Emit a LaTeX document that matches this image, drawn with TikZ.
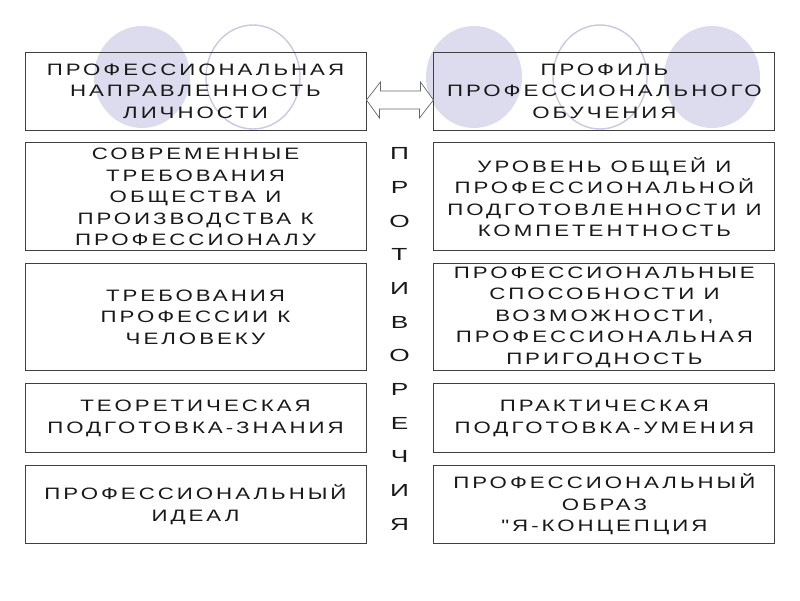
\documentclass[tikz,border=0pt]{standalone}
\usepackage{fontspec}
\setmainfont{Liberation Sans}
\newfontfamily\boxfont[FakeStretch=1.35,LetterSpace=18]{Liberation Sans}
\newfontfamily\columnfont[FakeStretch=1.5]{Liberation Sans}
\usetikzlibrary{positioning}
\definecolor{bubble}{RGB}{220,220,238}
\definecolor{bubbleline}{RGB}{200,200,228}
\definecolor{frame}{RGB}{64,64,64}
\definecolor{ink}{RGB}{25,25,25}
\tikzset{
  box/.style={draw=frame, line width=0.9pt, minimum width=341pt, inner sep=0pt,
    align=center, text=ink, font=\boxfont\fontsize{16.5}{21.5}\selectfont},
  twinarrow/.style={draw=gray!80!black, line width=0.7pt, fill=white, line join=miter},
  vtext/.style={align=center, text=ink, inner sep=0pt,
    font=\columnfont\fontsize{17.5}{33.7}\selectfont}
}
\begin{document}
\begin{tikzpicture}[x=1pt, y=-1pt]
    \useasboundingbox (0,0) rectangle (800,600);
    % background bubbles
    \fill[bubble] (142,77) ellipse [x radius=48, y radius=51];
    \draw[bubbleline, line width=1.4pt] (253,77) ellipse [x radius=47, y radius=52];
    \fill[bubble] (474,77) ellipse [x radius=48, y radius=51];
    \draw[bubbleline, line width=1.4pt] (600,77) ellipse [x radius=47, y radius=52];
    \fill[bubble] (712,77) ellipse [x radius=48, y radius=51];
    % left column
    \node[box, minimum height=78pt] (l1) at (195.5,91)
        {ПРОФЕССИОНАЛЬНАЯ\\НАПРАВЛЕННОСТЬ\\ЛИЧНОСТИ};
    \node[box, minimum height=108pt, below=12pt of l1] (l2)
        {СОВРЕМЕННЫЕ\\ТРЕБОВАНИЯ\\ОБЩЕСТВА И\\ПРОИЗВОДСТВА К\\ПРОФЕССИОНАЛУ};
    \node[box, minimum height=107pt, below=12pt of l2] (l3)
        {ТРЕБОВАНИЯ\\ПРОФЕССИИ К\\ЧЕЛОВЕКУ};
    \node[box, minimum height=69pt, below=12pt of l3] (l4)
        {ТЕОРЕТИЧЕСКАЯ\\ПОДГОТОВКА-ЗНАНИЯ};
    \node[box, minimum height=78pt, below=12pt of l4] (l5)
        {ПРОФЕССИОНАЛЬНЫЙ\\ИДЕАЛ};
    % right column
    \node[box, minimum height=78pt, right=67pt of l1] (r1)
        {ПРОФИЛЬ\\ПРОФЕССИОНАЛЬНОГО\\ОБУЧЕНИЯ};
    \node[box, minimum height=108pt, right=67pt of l2] (r2)
        {УРОВЕНЬ ОБЩЕЙ И\\ПРОФЕССИОНАЛЬНОЙ\\ПОДГОТОВЛЕННОСТИ И\\КОМПЕТЕНТНОСТЬ};
    \node[box, minimum height=107pt, right=67pt of l3] (r3)
        {ПРОФЕССИОНАЛЬНЫЕ\\СПОСОБНОСТИ И\\ВОЗМОЖНОСТИ,\\ПРОФЕССИОНАЛЬНАЯ\\ПРИГОДНОСТЬ};
    \node[box, minimum height=69pt, right=67pt of l4] (r4)
        {ПРАКТИЧЕСКАЯ\\ПОДГОТОВКА-УМЕНИЯ};
    \node[box, minimum height=78pt, right=67pt of l5] (r5)
        {ПРОФЕССИОНАЛЬНЫЙ\\ОБРАЗ\\"Я-КОНЦЕПЦИЯ};
    % middle word
    \node[vtext] (contr) at (399.5,339)
        {П\\Р\\О\\Т\\И\\В\\О\\Р\\Е\\Ч\\И\\Я};
    \draw[twinarrow] ([yshift=-9pt]l1.east) -- ++(14,-18) -- ++(0,9) -- ++(40,0) -- ++(0,-9)
        -- ([yshift=-9pt]r1.west) -- ++(-14,18) -- ++(0,-9) -- ++(-40,0) -- ++(0,9) -- cycle;
\end{tikzpicture}
\end{document}
